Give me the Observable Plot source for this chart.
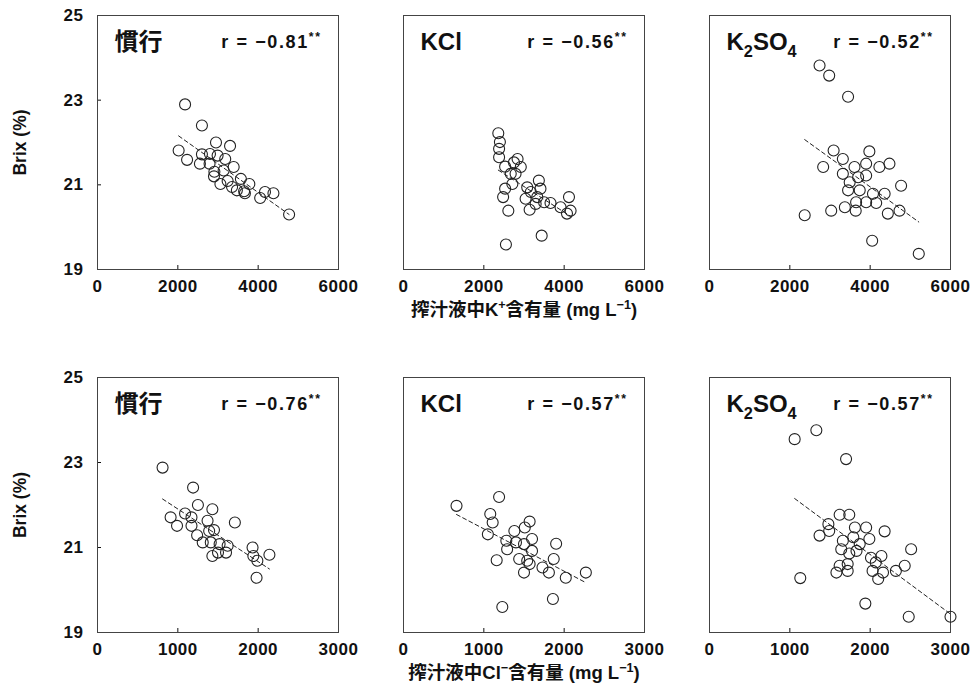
<!DOCTYPE html>
<html><head><meta charset="utf-8">
<script src="https://cdn.jsdelivr.net/npm/d3@7"></script>
<script src="https://cdn.jsdelivr.net/npm/@observablehq/plot@0.6"></script>
<style>
body{margin:0;background:#fff;}
svg{display:block;}
</style></head>
<body><div id="chart"></div>
<script>
const treatments = ["慣行", "KCl", "K_{2}SO_{4}"];
const rK = ["r = −0.81^{**}", "r = −0.56^{**}", "r = −0.52^{**}"];
const rCl = ["r = −0.76^{**}", "r = −0.57^{**}", "r = −0.57^{**}"];
const yTicks = [19, 21, 23, 25];
const xTicksK = [0, 2000, 4000, 6000];
const xTicksCl = [0, 1000, 2000, 3000];
const xLabelK = "搾汁液中K^{+}含有量 (mg L^{−1})";
const xLabelCl = "搾汁液中Cl^{−}含有量 (mg L^{−1})";
const yLabel = "Brix (%)";

// K+ content vs Brix
const kConvX = [2180, 2600, 2950, 3300, 2020, 2230, 2600, 2800, 2990, 3180, 2550, 2790, 3390, 2910, 3140, 3240, 3060, 3570, 3780, 3470, 3670, 4050, 4170, 4380, 4770, 2900, 3350, 3650];
const kConvY = [22.9, 22.4, 22.0, 21.92, 21.81, 21.59, 21.72, 21.73, 21.69, 21.61, 21.5, 21.5, 21.42, 21.31, 21.34, 21.09, 21.02, 21.14, 21.02, 20.87, 20.8, 20.69, 20.83, 20.8, 20.3, 21.2, 20.95, 20.85];
const kKclX = [2360, 2400, 2380, 2380, 2530, 2750, 2840, 2920, 2670, 2790, 2710, 2530, 2480, 2610, 2550, 3440, 3080, 3370, 3170, 3410, 3040, 3330, 3500, 3140, 3290, 3660, 4120, 3910, 4070, 4160];
const kKclY = [22.22, 22.01, 21.85, 21.65, 21.43, 21.53, 21.61, 21.42, 21.26, 21.26, 21.02, 20.91, 20.71, 20.39, 19.59, 19.8, 20.94, 21.1, 20.83, 20.91, 20.67, 20.71, 20.59, 20.41, 20.55, 20.57, 20.71, 20.47, 20.32, 20.39];
const kSo4X = [2740, 2980, 3450, 3090, 3980, 2830, 3320, 3610, 3900, 4230, 4480, 3320, 3490, 3700, 3900, 3450, 3740, 4770, 4070, 4360, 3650, 3900, 4150, 3370, 3640, 3030, 2370, 4440, 4730, 4050, 5210];
const kSo4Y = [23.82, 23.58, 23.08, 21.81, 21.79, 21.42, 21.61, 21.42, 21.5, 21.42, 21.5, 21.26, 21.06, 21.18, 21.22, 20.87, 20.87, 20.98, 20.79, 20.79, 20.59, 20.59, 20.57, 20.47, 20.39, 20.39, 20.28, 20.32, 20.39, 19.68, 19.37];

// Cl- content vs Brix
const clConvX = [810, 1190, 1250, 1430, 1710, 910, 990, 1090, 1170, 1370, 1170, 1240, 1390, 1450, 1310, 1410, 1520, 1620, 1500, 1600, 1430, 1930, 1940, 1990, 2140, 1980];
const clConvY = [22.88, 22.41, 22.0, 21.9, 21.59, 21.71, 21.51, 21.8, 21.71, 21.63, 21.51, 21.29, 21.39, 21.41, 21.12, 21.12, 21.08, 21.04, 20.88, 20.88, 20.8, 21.0, 20.8, 20.69, 20.83, 20.29];
const clKclX = [660, 1190, 1080, 1110, 1050, 1160, 1230, 1380, 1510, 1570, 1280, 1290, 1400, 1500, 1600, 1900, 1600, 1440, 1540, 1500, 1730, 1810, 1870, 2020, 2270, 1860, 1570];
const clKclY = [21.98, 22.19, 21.79, 21.59, 21.31, 20.7, 19.6, 21.39, 21.47, 21.61, 21.16, 20.96, 21.12, 21.08, 21.2, 21.09, 20.92, 20.73, 20.69, 20.41, 20.53, 20.41, 20.73, 20.29, 20.41, 19.79, 20.61];
const clSo4X = [1060, 1330, 1700, 1620, 1740, 1480, 1490, 1370, 1810, 1950, 2180, 1660, 1790, 1870, 1990, 1640, 1740, 1830, 2510, 2010, 2140, 2070, 1720, 1620, 1580, 1720, 2030, 2160, 2100, 2320, 2430, 1130, 1940, 2480, 3000];
const clSo4Y = [23.55, 23.76, 23.08, 21.77, 21.77, 21.55, 21.39, 21.28, 21.47, 21.47, 21.38, 21.16, 21.24, 21.08, 21.2, 20.96, 20.86, 20.92, 20.96, 20.76, 20.8, 20.65, 20.61, 20.57, 20.41, 20.45, 20.45, 20.41, 20.26, 20.45, 20.57, 20.28, 19.68, 19.37, 19.37];

function rows(xs, ys, t) { return xs.map((x, i) => ({t, x, y: ys[i]})); }

const FONT = "'Liberation Sans', Arial, 'Noto Sans CJK JP', sans-serif";

function panelRow(data, xDomain, xTicks, rLabels, xLabel, height, mt, mb) {
  const labels = treatments.map((t, i) => ({t, name: t, r: rLabels[i]}));
  return Plot.plot({
    width: 978, height, marginLeft: 96, marginRight: 26, marginTop: mt, marginBottom: mb,
    style: {fontFamily: FONT, fontSize: "17px", fontWeight: "bold", color: "#111", background: "#fff"},
    fx: {domain: treatments, axis: null, paddingInner: 0.2114, paddingOuter: 0},
    x: {domain: xDomain, ticks: xTicks, tickFormat: "d", tickSize: -4, tickPadding: 14, label: null},
    y: {domain: [19, 25], ticks: yTicks, tickFormat: "d", tickSize: -4, tickPadding: 18, label: null},
    marks: [
      Plot.frame({stroke: "#444", strokeWidth: 1}),
      Plot.linearRegressionY(data, {x: "x", y: "y", fx: "t", ci: 0, stroke: "#222", strokeWidth: 1, strokeDasharray: "4,3"}),
      Plot.dot(data, {x: "x", y: "y", fx: "t", r: 5.5, stroke: "#222", strokeWidth: 1.1, fill: "none"}),
      Plot.text(labels, {fx: "t", text: "name", frameAnchor: "top-left", dx: 17, dy: 27, fontSize: 24, textAnchor: "start", lineAnchor: "middle"}),
      Plot.text(labels, {fx: "t", text: "r", frameAnchor: "top-right", dx: -17, dy: 27, fontSize: 18, textAnchor: "end", lineAnchor: "middle"}),
      Plot.text([{t: treatments[1], s: xLabel}], {fx: "t", text: "s", frameAnchor: "bottom", dy: 41, fontSize: 18.5, textAnchor: "middle", lineAnchor: "middle"}),
      Plot.text([{t: treatments[0], s: yLabel}], {fx: "t", text: "s", frameAnchor: "left", dx: -77, rotate: -90, fontSize: 17.5, textAnchor: "middle", lineAnchor: "middle"})
    ]
  });
}

const dataK = [...rows(kConvX, kConvY, treatments[0]), ...rows(kKclX, kKclY, treatments[1]), ...rows(kSo4X, kSo4Y, treatments[2])];
const dataCl = [...rows(clConvX, clConvY, treatments[0]), ...rows(clKclX, clKclY, treatments[1]), ...rows(clSo4X, clSo4Y, treatments[2])];

const topRow = panelRow(dataK, [0, 6000], xTicksK, rK, xLabelK, 330, 15, 61);
const bottomRow = panelRow(dataCl, [0, 3000], xTicksCl, rCl, xLabelCl, 364, 47, 62);
const host = document.getElementById("chart");
host.appendChild(topRow);
host.appendChild(bottomRow);

// rich text: ^{..} superscript, _{..} subscript
const NS = "http://www.w3.org/2000/svg";
function richify(svg) {
  svg.querySelectorAll("text").forEach(t => {
    const s = t.textContent;
    if (s.startsWith("r = ")) t.setAttribute("letter-spacing", "1.6");
    if (/^[0-9]+$/.test(s)) t.setAttribute("letter-spacing", "0.5");
    if (!/[\^_]\{/.test(s)) return;
    const fs = parseFloat(getComputedStyle(t).fontSize) || 16;
    while (t.firstChild) t.removeChild(t.firstChild);
    const re = /([\^_])\{([^}]*)\}/g;
    let last = 0, m, cur = 0;
    const add = (str, kind) => {
      if (!str) return;
      const ts = document.createElementNS(NS, "tspan");
      ts.textContent = str;
      const target = kind === "^" ? -0.42 * fs : kind === "_" ? 0.28 * fs : 0;
      if (target !== cur) ts.setAttribute("dy", target - cur);
      cur = target;
      if (kind) ts.setAttribute("font-size", (0.68 * fs).toFixed(1));
      t.appendChild(ts);
    };
    while ((m = re.exec(s))) {
      add(s.slice(last, m.index), null);
      add(m[2], m[1]);
      last = re.lastIndex;
    }
    add(s.slice(last), null);
  });
}
richify(topRow); richify(bottomRow);
</script>
</body></html>
